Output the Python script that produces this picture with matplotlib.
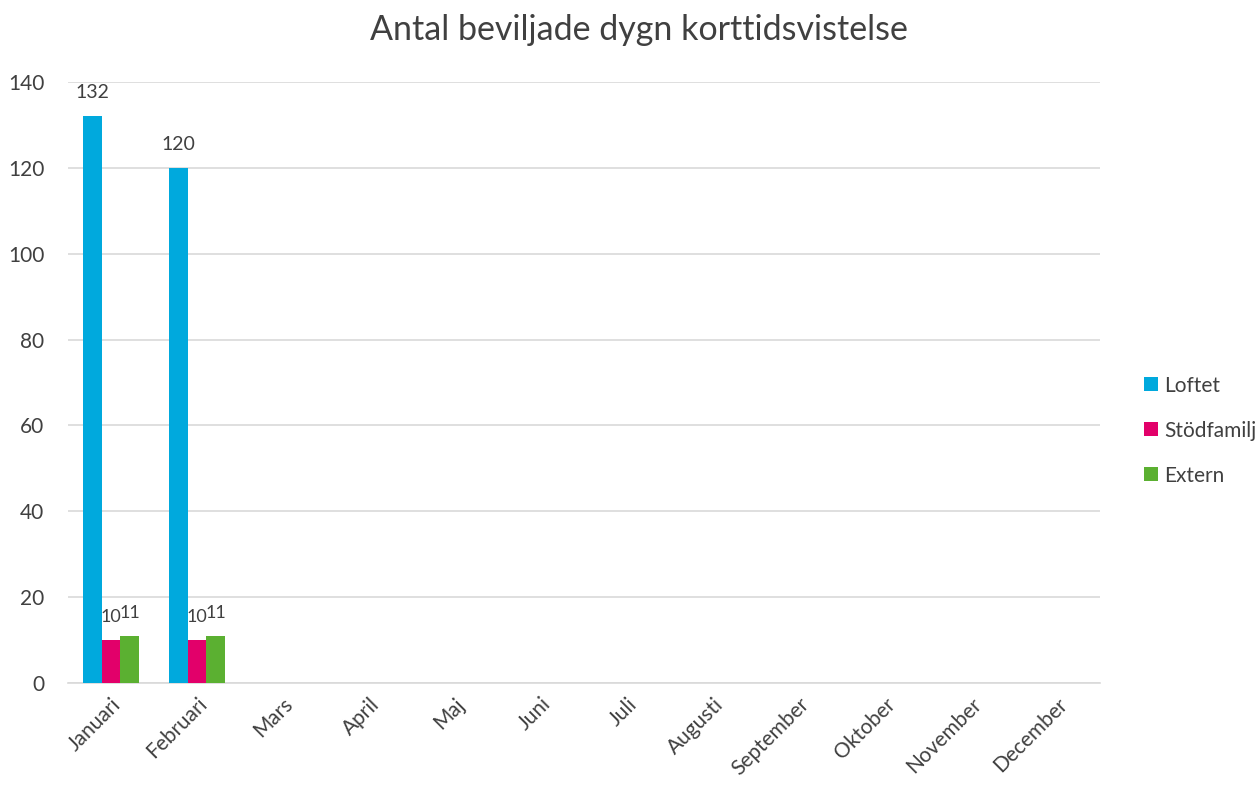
import matplotlib
matplotlib.use("Agg")
import matplotlib.pyplot as plt
import numpy as np

months = ["Januari", "Februari", "Mars", "April", "Maj", "Juni", "Juli",
          "Augusti", "September", "Oktober", "November", "December"]
series_names = ["Loftet", "Stödfamilj", "Extern"]
loftet = [132, 120]
stodfamilj = [10, 10]
extern = [11, 11]
colors = ["#00A9DD", "#E2006A", "#5BB031"]
yticks = [0, 20, 40, 60, 80, 100, 120, 140]

plt.rcParams['font.family'] = ['Lato', 'DejaVu Sans']
textc = "#404040"

fig = plt.figure(figsize=(12.57, 7.87), dpi=100)
ax = fig.add_axes([0.0541, 0.1322, 0.8209, 0.7636])

x = np.arange(len(months))
w = 0.22
for i, (name, vals, c) in enumerate(zip(series_names, [loftet, stodfamilj, extern], colors)):
    xs = x[:len(vals)] + (i - 1) * w
    bars = ax.bar(xs, vals, width=w, color=c, label=name, zorder=3)
    for b, v in zip(bars, vals):
        ax.text(b.get_x() + b.get_width() / 2, v + 3.5, str(v), ha="center", va="bottom",
                fontsize=14 if v >= 100 else 13, color=textc)

ax.set_xlim(-0.5, len(months) - 0.5)
ax.set_ylim(0, 140)
ax.set_yticks(yticks)
ax.set_yticklabels([str(t) for t in yticks], fontsize=15, color=textc)
ax.set_xticks(x)
ax.set_xticklabels(months, rotation=45, ha="right", rotation_mode="anchor", fontsize=15, color=textc)
ax.tick_params(axis="y", length=0, pad=17)
ax.tick_params(axis="x", length=0, pad=8)
ax.yaxis.grid(True, color="#D9D9D9", linewidth=1.2, zorder=0)
for s in ["top", "right", "left"]:
    ax.spines[s].set_visible(False)
ax.spines["bottom"].set_color("#D9D9D9")
ax.spines["bottom"].set_linewidth(1.2)

fig.text(0.508, 0.962, "Antal beviljade dygn korttidsvistelse", ha="center", va="center",
         fontsize=24.5, color=textc)

leg = ax.legend(loc="center left", bbox_to_anchor=(1.025, 0.42), frameon=False,
                fontsize=15, labelcolor=textc, handlelength=0.65, handleheight=0.65,
                handletextpad=0.3, labelspacing=1.2)

fig.savefig("out.png", dpi=100)
